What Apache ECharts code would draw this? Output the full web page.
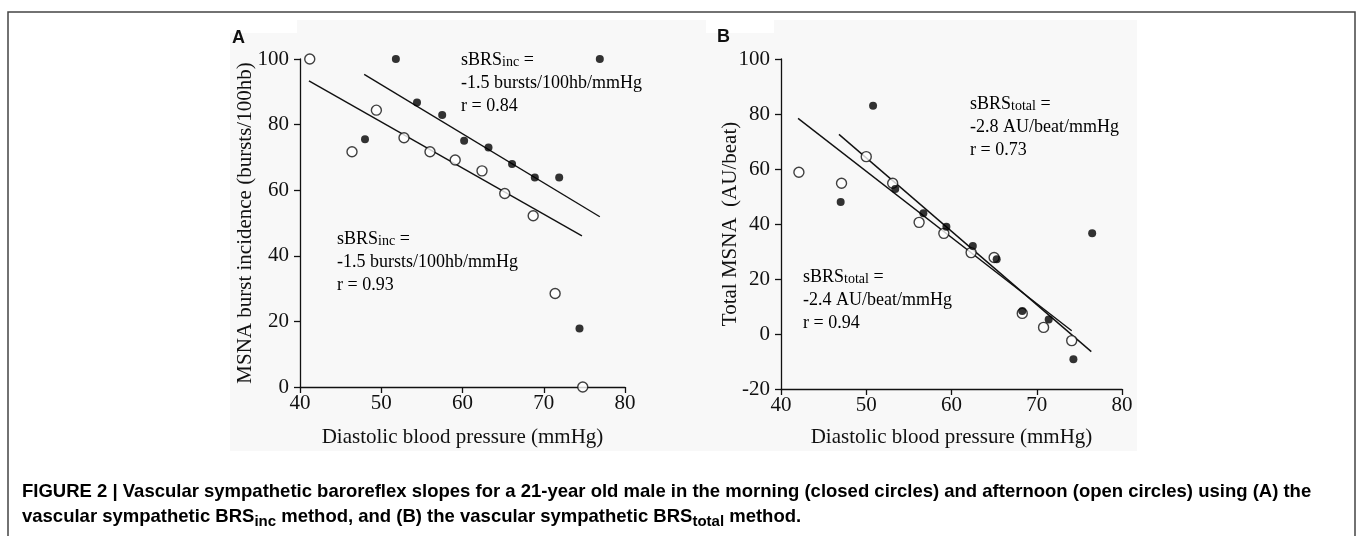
<!DOCTYPE html>
<html>
<head>
<meta charset="utf-8">
<script src="https://cdn.jsdelivr.net/npm/echarts@6/dist/echarts.min.js"></script>
<style>
  html, body { margin: 0; padding: 0; background: #fff; }
  #chart { width: 1357px; height: 536px; }
</style>
</head>
<body>
<div id="chart"></div>
<script>
// panel A: MSNA burst incidence, closed = morning, open = afternoon
const aMorningX = [48.0, 51.8, 54.4, 57.5, 60.2, 63.2, 66.1, 68.9, 71.9, 74.4, 76.9]
const aMorningY = [75.5, 100, 86.7, 82.9, 75.1, 73.0, 68.0, 63.9, 63.9, 17.8, 100]
const aAfternoonX = [41.2, 46.4, 49.4, 52.8, 56.0, 59.1, 62.4, 65.2, 68.7, 71.4, 74.8]
const aAfternoonY = [100, 71.7, 84.4, 76.0, 71.7, 69.2, 65.9, 59.0, 52.2, 28.5, 0]
const aMorningFitX = [47.9, 76.9]
const aMorningFitY = [95.3, 51.9]
const aAfternoonFitX = [41.1, 74.7]
const aAfternoonFitY = [93.3, 46.1]

// panel B: total MSNA
const bMorningX = [47.0, 50.8, 53.4, 56.7, 59.4, 62.5, 65.3, 68.3, 71.4, 74.3, 76.5]
const bMorningY = [48.0, 83.0, 52.7, 43.9, 39.0, 32.0, 27.2, 8.4, 5.3, -9.2, 36.6]
const bAfternoonX = [42.1, 47.1, 50.0, 53.1, 56.2, 59.1, 62.3, 65.0, 68.3, 70.8, 74.1]
const bAfternoonY = [58.8, 54.8, 64.5, 54.8, 40.6, 36.6, 29.6, 27.8, 7.5, 2.4, -2.4]
const bMorningFitX = [46.8, 76.4]
const bMorningFitY = [72.6, -6.4]
const bAfternoonFitX = [42.0, 74.1]
const bAfternoonFitY = [78.4, 1.2]

const xTicks = [40, 50, 60, 70, 80]
const aYTicks = [0, 20, 40, 60, 80, 100]
const bYTicks = [-20, 0, 20, 40, 60, 80, 100]

const serif = 'Liberation Serif'
const sans = 'Liberation Sans'

function pairs (xs, ys) {
  return xs.map((x, i) => [x, ys[i]])
}

const chart = echarts.init(document.getElementById('chart'), null, { renderer: 'canvas' })

function xAxis (idx, gap) {
  return {
    type: 'value',
    gridIndex: idx,
    min: xTicks[0],
    max: xTicks[xTicks.length - 1],
    interval: 10,
    name: 'Diastolic blood pressure (mmHg)',
    nameLocation: 'middle',
    nameGap: gap,
    nameMoveOverlap: false,
    nameTextStyle: { fontFamily: serif, fontSize: 21, color: '#111' },
    axisLine: { onZero: false, lineStyle: { color: '#111', width: 1.3 } },
    axisTick: { length: 6, lineStyle: { color: '#111', width: 1.3 } },
    axisLabel: { margin: 6, fontFamily: serif, fontSize: 21, color: '#111' },
    splitLine: { show: false }
  }
}

function yAxis (idx, ticks, name, gap) {
  return {
    type: 'value',
    gridIndex: idx,
    min: ticks[0],
    max: ticks[ticks.length - 1],
    interval: 20,
    name: name,
    nameLocation: 'middle',
    nameGap: gap,
    nameMoveOverlap: false,
    nameTextStyle: { fontFamily: serif, fontSize: 21, color: '#111' },
    axisLine: { show: true, onZero: false, lineStyle: { color: '#111', width: 1.3 } },
    axisTick: { show: true, length: 6, lineStyle: { color: '#111', width: 1.3 } },
    axisLabel: { margin: 11, fontFamily: serif, fontSize: 21, color: '#111' },
    splitLine: { show: false }
  }
}

function openDots (idx, data) {
  return {
    type: 'scatter', xAxisIndex: idx, yAxisIndex: idx, data: data,
    symbol: 'circle', symbolSize: 10, z: 5,
    itemStyle: { color: '#fff', borderColor: '#111', borderWidth: 1.4 }
  }
}
function closedDots (idx, data) {
  return {
    type: 'scatter', xAxisIndex: idx, yAxisIndex: idx, data: data,
    symbol: 'circle', symbolSize: 8, z: 6,
    itemStyle: { color: '#000' }
  }
}
function fitLine (idx, data) {
  return {
    type: 'line', xAxisIndex: idx, yAxisIndex: idx, data: data,
    showSymbol: false, symbol: 'none', z: 3,
    lineStyle: { color: '#111', width: 1.4 }
  }
}

function note (left, top, sub, lines) {
  return {
    type: 'text', left: left, top: top, z: 10,
    style: {
      text: '{a|sBRS}{s|' + sub + '}{a| =}\n' + lines.map(l => '{a|' + l + '}').join('\n'),
      rich: {
        a: { fontFamily: serif, fontSize: 18, lineHeight: 23, color: '#111', verticalAlign: 'bottom' },
        s: { fontFamily: serif, fontSize: 14, lineHeight: 23, color: '#111', verticalAlign: 'bottom' }
      }
    }
  }
}

const capRich = {
  b: { fontFamily: sans, fontWeight: 'bold', fontSize: 18.5, lineHeight: 25, color: '#111' },
  s: { fontFamily: sans, fontWeight: 'bold', fontSize: 15, lineHeight: 25, color: '#111', padding: [11, 0, 0, 0] }
}

const option = {
  animation: false,
  backgroundColor: '#fff',
  grid: [
    { left: 300, top: 59, width: 325, height: 328 },
    { left: 781, top: 59, width: 341, height: 330 }
  ],
  xAxis: [xAxis(0, 40), xAxis(1, 38)],
  yAxis: [
    yAxis(0, aYTicks, 'MSNA burst incidence (bursts/100hb)', 44),
    yAxis(1, bYTicks, 'Total MSNA  (AU/beat)', 40)
  ],
  series: [
    fitLine(0, pairs(aMorningFitX, aMorningFitY)),
    fitLine(0, pairs(aAfternoonFitX, aAfternoonFitY)),
    openDots(0, pairs(aAfternoonX, aAfternoonY)),
    closedDots(0, pairs(aMorningX, aMorningY)),
    fitLine(1, pairs(bMorningFitX, bMorningFitY)),
    fitLine(1, pairs(bAfternoonFitX, bAfternoonFitY)),
    openDots(1, pairs(bAfternoonX, bAfternoonY)),
    closedDots(1, pairs(bMorningX, bMorningY))
  ],
  graphic: [
    // frame, open at the bottom
    { type: 'rect', z: -10, shape: { x: 8, y: 12, width: 1347, height: 600 },
      style: { fill: 'none', stroke: '#444', lineWidth: 1.5 } },
    // pale backdrop of the figure
    { type: 'rect', z: -9, shape: { x: 230, y: 20, width: 907, height: 431 },
      style: { fill: '#f8f8f8' } },
    { type: 'rect', z: -8, shape: { x: 230, y: 20, width: 67, height: 13 }, style: { fill: '#fff' } },
    { type: 'rect', z: -8, shape: { x: 706, y: 20, width: 68, height: 13 }, style: { fill: '#fff' } },
    { type: 'text', left: 232, top: 29, z: 10,
      style: { text: 'A', fontFamily: sans, fontWeight: 'bold', fontSize: 18, fill: '#111' } },
    { type: 'text', left: 717, top: 28, z: 10,
      style: { text: 'B', fontFamily: sans, fontWeight: 'bold', fontSize: 18, fill: '#111' } },
    note(461, 51, 'inc', ['-1.5 bursts/100hb/mmHg', 'r = 0.84']),
    note(337, 230, 'inc', ['-1.5 bursts/100hb/mmHg', 'r = 0.93']),
    note(970, 95, 'total', ['-2.8 AU/beat/mmHg', 'r = 0.73']),
    note(803, 268, 'total', ['-2.4 AU/beat/mmHg', 'r = 0.94']),
    { type: 'text', left: 22, top: 482, z: 10,
      style: {
        text: '{b|FIGURE 2 | Vascular sympathetic baroreflex slopes for a 21-year old male in the morning (closed circles) and afternoon (open circles) using (A) the}\n' +
          '{b|vascular sympathetic BRS}{s|inc}{b| method, and (B) the vascular sympathetic BRS}{s|total}{b| method.}',
        rich: capRich
      } }
  ]
}

chart.setOption(option)
</script>
</body>
</html>
